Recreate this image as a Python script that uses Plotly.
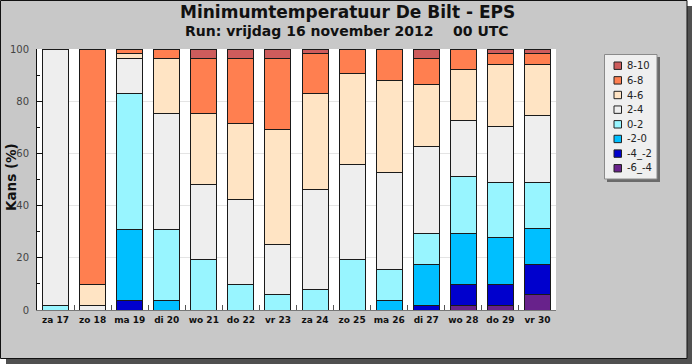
import plotly.graph_objects as go

days = ["za 17", "zo 18", "ma 19", "di 20", "wo 21", "do 22", "vr 23",
        "za 24", "zo 25", "ma 26", "di 27", "wo 28", "do 29", "vr 30"]

# classes from bottom to top
classes = ["-6_-4", "-4_-2", "-2-0", "0-2", "2-4", "4-6", "6-8", "8-10"]
colors = ["#68228B", "#0000CD", "#00BFFF", "#98F5FF", "#EEEEEE", "#FFE4C4", "#FF7F50", "#CD5C5C"]

v_m6_m4 = [0, 0, 0, 0, 0, 0, 0, 0, 0, 0, 0, 1.9, 1.9, 5.8]
v_m4_m2 = [0, 0, 3.8, 0, 0, 0, 0, 0, 0, 0, 1.9, 7.7, 7.7, 11.6]
v_m2_0 = [0, 0, 27.0, 3.8, 0, 0, 0, 0, 0, 3.8, 15.5, 19.6, 18.0, 14.0]
v_0_2 = [1.9, 0, 52.0, 27.0, 19.2, 9.6, 5.8, 7.7, 19.2, 11.8, 11.8, 21.8, 21.2, 17.4]
v_2_4 = [98.1, 1.9, 13.4, 44.3, 28.9, 32.7, 19.3, 38.5, 36.6, 37.1, 33.6, 21.7, 21.7, 25.6]
v_4_6 = [0, 7.7, 2.0, 21.1, 27.0, 29.0, 44.1, 36.6, 34.7, 35.4, 23.5, 19.6, 23.5, 19.6]
v_6_8 = [0, 90.4, 1.8, 3.8, 21.1, 24.9, 27.0, 15.4, 9.5, 11.9, 9.9, 7.7, 4.2, 4.2]
v_8_10 = [0, 0, 0, 0, 3.8, 3.8, 3.8, 1.8, 0, 0, 3.8, 0, 1.8, 1.8]

series = [v_m6_m4, v_m4_m2, v_m2_0, v_0_2, v_2_4, v_4_6, v_6_8, v_8_10]

W, H = 692, 364
L, R, T, B = 37, 556, 49, 310
pw, ph = R - L, B - T


def px(x):
    return (x - L) / pw


def py(y):
    return (B - y) / ph


fig = go.Figure()
for name, col, vals in zip(classes, colors, series):
    fig.add_trace(go.Bar(x=days, y=vals, name=name, marker_color=col,
                         marker_line_color="#1a1a1a", marker_line_width=1,
                         showlegend=False))

shapes = []
# background frame with shadow
shapes.append(dict(type="rect", xref="paper", yref="paper", layer="below",
                   x0=px(6), x1=px(692), y0=py(364), y1=py(6),
                   fillcolor="#505050", line_width=0))
shapes.append(dict(type="rect", xref="paper", yref="paper", layer="below",
                   x0=px(0.5), x1=px(687), y0=py(358.5), y1=py(0.5),
                   fillcolor="#C8C8C8", line=dict(color="#111111", width=1)))
shapes.append(dict(type="rect", xref="paper", yref="paper", layer="below",
                   x0=0, x1=1, y0=0, y1=1, fillcolor="white", line_width=0))
# legend box with shadow
shapes.append(dict(type="rect", xref="paper", yref="paper", layer="above",
                   x0=px(607), x1=px(660), y0=py(182), y1=py(57),
                   fillcolor="#6a6a6a", line_width=0))
shapes.append(dict(type="rect", xref="paper", yref="paper", layer="above",
                   x0=px(604.5), x1=px(657), y0=py(179), y1=py(54.5),
                   fillcolor="#EFEFEF", line=dict(color="#8a8a8a", width=1)))

annotations = []
leg_names = classes[::-1]
leg_cols = colors[::-1]
for i, (nm, col) in enumerate(zip(leg_names, leg_cols)):
    yc = 65.7 + i * 14.65
    shapes.append(dict(type="rect", xref="paper", yref="paper", layer="above",
                       x0=px(614), x1=px(621.5), y0=py(yc + 3.7), y1=py(yc - 3.7),
                       fillcolor=col, line=dict(color="#222222", width=1)))
    annotations.append(dict(xref="paper", yref="paper", x=px(624.5), y=py(yc),
                            xanchor="left", yanchor="middle", showarrow=False,
                            text=nm, font=dict(family="DejaVu Sans", size=10, color="#222222")))

# titles
annotations.append(dict(xref="paper", yref="paper", x=px(347), y=py(12.5),
                        xanchor="center", yanchor="middle", showarrow=False,
                        text="<b>Minimumtemperatuur De Bilt - EPS</b>",
                        font=dict(family="DejaVu Sans", size=17, color="#111111")))
annotations.append(dict(xref="paper", yref="paper", x=px(347), y=py(31),
                        xanchor="center", yanchor="middle", showarrow=False,
                        text="<b>Run: vrijdag 16 november 2012\u00a0\u00a0\u00a0\u00a000 UTC</b>",
                        font=dict(family="DejaVu Sans", size=14, color="#111111")))
annotations.append(dict(xref="paper", yref="paper", x=px(11), y=py(177),
                        xanchor="center", yanchor="middle", showarrow=False,
                        textangle=-90, text="<b>Kans (%)</b>",
                        font=dict(family="DejaVu Sans", size=13.5, color="#111111")))

fig.update_layout(
    width=W, height=H,
    margin=dict(l=L, r=W - R, t=T, b=H - B, pad=0),
    barmode="stack", bargap=0.3,
    paper_bgcolor="white", plot_bgcolor="white",
    shapes=shapes, annotations=annotations,
    xaxis=dict(type="category", showline=True, linecolor="#777777", linewidth=1,
               ticks="inside", tickson="boundaries", ticklen=5, tickcolor="#555555",
               showgrid=False, tickangle=0, automargin=False, ticklabelstandoff=1,
               tickfont=dict(family="DejaVu Sans", size=9, color="#111111", weight="bold")),
    yaxis=dict(range=[0, 100], tickvals=[0, 20, 40, 60, 80, 100],
               showline=True, linecolor="#111111", linewidth=1,
               ticks="inside", ticklen=6, tickcolor="#111111", automargin=False,
               minor=dict(tickvals=[10, 30, 50, 70, 90], ticks="inside", ticklen=3,
                          tickcolor="#111111", showgrid=False),
               showgrid=True, gridcolor="#E4E4E4", gridwidth=1, zeroline=False,
               ticklabelstandoff=5,
               tickfont=dict(family="DejaVu Sans", size=10, color="#444444")),
)

fig.write_html("out.html", config={"displayModeBar": False},
               post_script="document.body.style.margin='0';document.body.style.overflow='hidden';")
